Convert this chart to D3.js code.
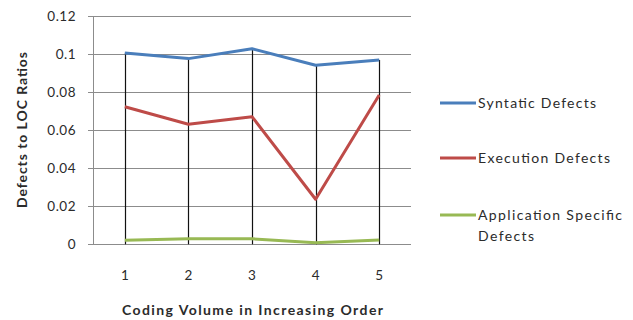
<!DOCTYPE html>
<html><head><meta charset="utf-8">
<script src="https://cdn.jsdelivr.net/npm/d3@7"></script>
<style>body{margin:0;background:#fff}svg{display:block}text{font-family:Lato,"Open Sans",sans-serif}</style>
</head><body><svg id="c" width="633" height="320"></svg>
<script>
const categories = ["1","2","3","4","5"];
const syntatic = [0.1006, 0.0976, 0.1028, 0.0941, 0.0969];
const execution = [0.0723, 0.0631, 0.0671, 0.0237, 0.0785];
const application = [0.0021, 0.0029, 0.0029, 0.0008, 0.0023];
const yTicks = [0, 0.02, 0.04, 0.06, 0.08, 0.1, 0.12];
const seriesNames = ["Syntatic Defects", "Execution Defects", "Application Specific Defects"];

const series = [
  {name: seriesNames[0], values: syntatic, color: "#4a7ebb"},
  {name: seriesNames[1], values: execution, color: "#be4b48"},
  {name: seriesNames[2], values: application, color: "#98b954"}
];

const svg = d3.select("#c");
const x = d3.scaleBand().domain(categories).range([93, 411]);
const y = d3.scaleLinear().domain([0, 0.12]).range([244.3, 16]);
const cx = c => x(c) + x.bandwidth() / 2;
const textColor = "#2b2b2b";

// horizontal gridlines
svg.append("g").selectAll("line").data(yTicks).join("line")
  .attr("x1", 88).attr("x2", 411)
  .attr("y1", d => Math.round(y(d)) + 0.5).attr("y2", d => Math.round(y(d)) + 0.5)
  .attr("stroke", "#8c8c8c").attr("stroke-width", 1);

// vertical axis line
svg.append("line").attr("x1", 93.5).attr("x2", 93.5)
  .attr("y1", Math.round(y(0.12))).attr("y2", Math.round(y(0)) + 1)
  .attr("stroke", "#8c8c8c");

// y tick labels
svg.append("g").selectAll("text").data(yTicks).join("text")
  .attr("x", 76).attr("y", d => y(d)).attr("dy", "0.35em")
  .attr("text-anchor", "end").attr("font-size", 13.5).attr("letter-spacing", 0.5)
  .attr("fill", textColor)
  .text(d => d3.format("")(+d.toFixed(2)));

// x tick labels
svg.append("g").selectAll("text").data(categories).join("text")
  .attr("x", cx).attr("y", 280).attr("text-anchor", "middle")
  .attr("font-size", 13.5).attr("fill", textColor).text(d => d);

// drop lines from the highest value to the axis
svg.append("g").selectAll("line").data(categories).join("line")
  .attr("x1", d => Math.round(cx(d)) + 0.5).attr("x2", d => Math.round(cx(d)) + 0.5)
  .attr("y1", (d, i) => y(d3.max(series, s => s.values[i])))
  .attr("y2", y(0))
  .attr("stroke", "#111").attr("stroke-width", 1.2);

// series lines
const line = d3.line().x((d, i) => cx(categories[i])).y(d => y(d));
svg.append("g").selectAll("path").data(series).join("path")
  .attr("d", d => line(d.values)).attr("fill", "none")
  .attr("stroke", d => d.color).attr("stroke-width", 3)
  .attr("stroke-linejoin", "round");

// axis titles
svg.append("text").attr("x", 122).attr("y", 315)
  .attr("font-size", 14).attr("font-weight", "bold").attr("fill", textColor)
  .attr("textLength", 261).attr("lengthAdjust", "spacing")
  .text("Coding Volume in Increasing Order");
svg.append("text").attr("transform", "translate(27,208) rotate(-90)")
  .attr("font-size", 14).attr("font-weight", "bold").attr("fill", textColor)
  .attr("textLength", 156).attr("lengthAdjust", "spacing")
  .text("Defects to LOC Ratios");

// legend
const legendY = [103, 158, 215];
const lg = svg.append("g").selectAll("g").data(series).join("g")
  .attr("transform", (d, i) => `translate(440,${legendY[i]})`);
lg.append("line").attr("x1", 0).attr("x2", 36).attr("stroke", d => d.color).attr("stroke-width", 3);
lg.append("text").attr("x", 38).attr("dy", "0.35em").attr("font-size", 14).attr("fill", textColor)
  .each(function(d) {
    const t = d3.select(this);
    if (d.name === seriesNames[2]) {
      t.append("tspan").attr("x", 38).attr("textLength", 144).attr("lengthAdjust", "spacing")
        .text("Application Specific");
      t.append("tspan").attr("x", 38).attr("dy", 21).attr("textLength", 56).attr("lengthAdjust", "spacing")
        .text("Defects");
    } else {
      t.attr("textLength", d.name === seriesNames[0] ? 118 : 132).attr("lengthAdjust", "spacing")
        .text(d.name);
    }
  });
</script></body></html>
